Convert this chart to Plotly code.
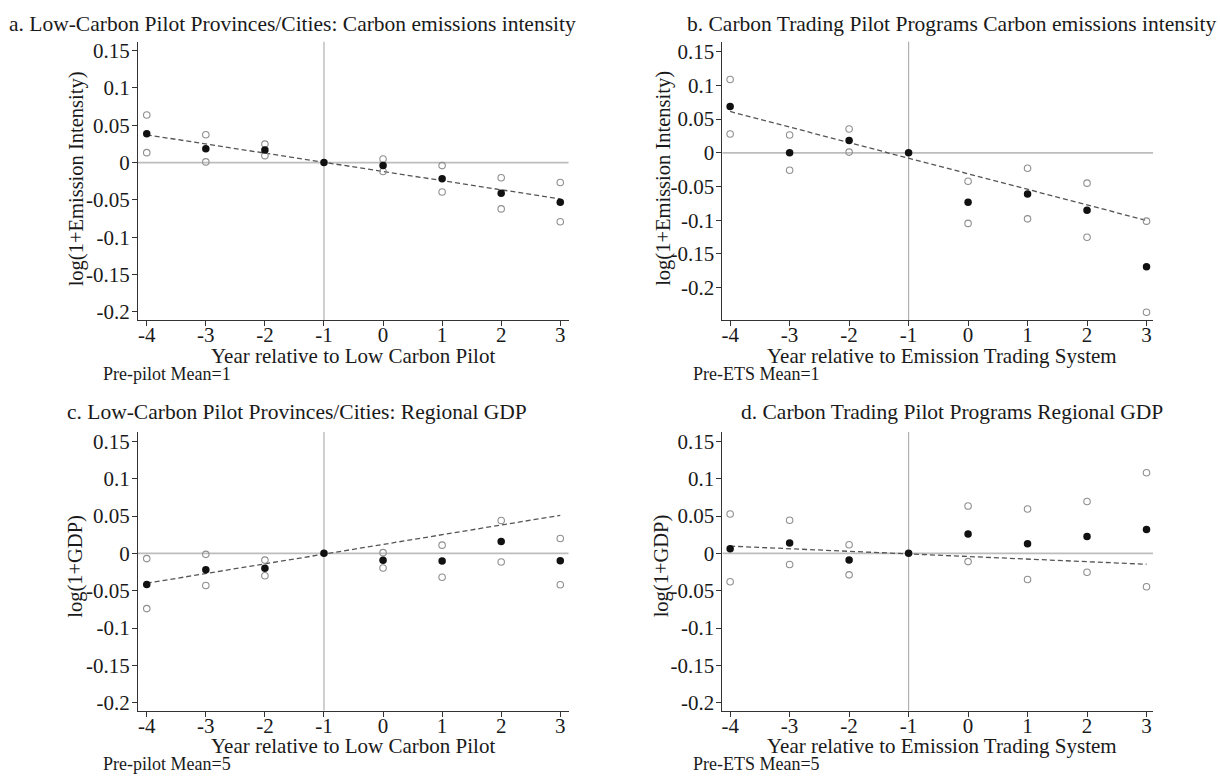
import plotly.graph_objects as go

# ---------------- data ----------------
years = [-4, -3, -2, -1, 0, 1, 2, 3]

# a. Low-carbon pilot: emission intensity
a_est = [0.0385, 0.0186, 0.0168, 0.0, -0.0040, -0.0217, -0.0412, -0.0531]
a_hi = [0.0638, 0.0372, 0.0248, None, 0.0049, -0.0040, -0.0204, -0.0266]
a_lo = [0.0133, 0.0009, 0.0093, None, -0.0120, -0.0394, -0.0620, -0.0793]
a_fit = [0.0372, -0.0487]

# b. Carbon trading pilot: emission intensity
b_est = [0.0685, 0.0, 0.0181, 0.0, -0.0734, -0.0612, -0.0852, -0.1689]
b_hi = [0.1087, 0.0264, 0.0352, None, -0.0421, -0.0230, -0.0450, -0.1013]
b_lo = [0.0279, -0.0260, 0.0010, None, -0.1047, -0.0979, -0.1253, -0.2364]
b_fit = [0.0612, -0.1003]

# c. Low-carbon pilot: regional GDP
c_est = [-0.0417, -0.0220, -0.0200, 0.0, -0.0093, -0.0102, 0.0160, -0.0100]
c_hi = [-0.0070, -0.0013, -0.0090, None, 0.0010, 0.0110, 0.0440, 0.0200]
c_lo = [-0.0740, -0.0430, -0.0300, None, -0.0195, -0.0320, -0.0115, -0.0420]
c_fit = [-0.0400, 0.0510]

# d. Carbon trading pilot: regional GDP
d_est = [0.0062, 0.0140, -0.0089, 0.0, 0.0260, 0.0128, 0.0226, 0.0320]
d_hi = [0.0527, 0.0443, 0.0115, None, 0.0634, 0.0594, 0.0696, 0.1080]
d_lo = [-0.0380, -0.0150, -0.0288, None, -0.0110, -0.0350, -0.0253, -0.0447]
d_fit = [0.0097, -0.0146]

fit_x = [-4, 3]

titles = [
    "a. Low-Carbon Pilot Provinces/Cities: Carbon emissions intensity",
    "b. Carbon Trading Pilot Programs Carbon emissions intensity",
    "c. Low-Carbon Pilot Provinces/Cities: Regional GDP",
    "d. Carbon Trading Pilot Programs Regional GDP",
]
y_titles = ["log(1+Emission Intensity)", "log(1+Emission Intensity)",
            "log(1+GDP)", "log(1+GDP)"]
x_titles = ["Year relative to Low Carbon Pilot", "Year relative to Emission Trading System",
            "Year relative to Low Carbon Pilot", "Year relative to Emission Trading System"]
notes = ["Pre-pilot Mean=1", "Pre-ETS Mean=1", "Pre-pilot Mean=5", "Pre-ETS Mean=5"]

y_tickvals = [0.15, 0.1, 0.05, 0, -0.05, -0.1, -0.15, -0.2]
y_ticktext = ["0.15", "0.1", "0.05", "0", "-0.05", "-0.1", "-0.15", "-0.2"]
x_ticktext = ["-4", "-3", "-2", "-1", "0", "1", "2", "3"]

# ---------------- layout geometry ----------------
W, H = 1220, 776
FONT = "Liberation Serif"
TXT = "#1a1a1a"

panels = [
    dict(est=a_est, hi=a_hi, lo=a_lo, fit=a_fit, px=(137, 568), py=(39, 320),
         yr=[-0.211, 0.162], xr=[-4.15, 3.14], tcx=292, tcy=21,
         ytx=75, yty=177, xtx=352, ntx=100),
    dict(est=b_est, hi=b_hi, lo=b_lo, fit=b_fit, px=(722, 1153), py=(39, 320),
         yr=[-0.248, 0.1647], xr=[-4.13, 3.11], tcx=951, tcy=21,
         ytx=663, yty=177, xtx=942, ntx=691),
    dict(est=c_est, hi=c_hi, lo=c_lo, fit=c_fit, px=(137, 568), py=(433, 714),
         yr=[-0.2106, 0.1625], xr=[-4.15, 3.14], tcx=296, tcy=413,
         ytx=75, yty=568, xtx=352, ntx=100),
    dict(est=d_est, hi=d_hi, lo=d_lo, fit=d_fit, px=(722, 1153), py=(433, 714),
         yr=[-0.2106, 0.1625], xr=[-4.13, 3.11], tcx=952, tcy=413,
         ytx=661, yty=568, xtx=942, ntx=691),
]

fig = go.Figure()
layout = dict(
    width=W, height=H, margin=dict(l=0, r=0, t=0, b=0),
    paper_bgcolor="white", plot_bgcolor="white", showlegend=False,
    font=dict(family=FONT, size=20, color=TXT),
)
annotations = []
shapes = []

for i, p in enumerate(panels):
    n = "" if i == 0 else str(i + 1)
    xa, ya = "x" + n, "y" + n
    x0, x1 = p["px"]
    y0, y1 = p["py"]
    layout["xaxis" + n] = dict(
        domain=[x0 / W, x1 / W], range=p["xr"], anchor=ya,
        tickvals=years, ticktext=x_ticktext, ticks="outside", ticklen=5,
        tickwidth=1, tickcolor="#333", showline=True, linecolor="#333",
        linewidth=1, showgrid=False, zeroline=False, ticklabelstandoff=-9,
        tickfont=dict(family=FONT, size=21, color=TXT), fixedrange=True,
    )
    layout["yaxis" + n] = dict(
        domain=[1 - y1 / H, 1 - y0 / H], range=p["yr"], anchor=xa,
        tickvals=y_tickvals, ticktext=y_ticktext, ticks="outside", ticklen=5,
        tickwidth=1, tickcolor="#333", showline=True, linecolor="#333",
        linewidth=1, showgrid=False, zeroline=False, ticklabelstandoff=-2,
        tickfont=dict(family=FONT, size=21, color=TXT), fixedrange=True,
    )
    # reference lines
    shapes.append(dict(type="line", xref=xa + " domain", yref=ya, x0=0, x1=1,
                       y0=0, y1=0, line=dict(color="#bdbdbd", width=1.8), layer="below"))
    shapes.append(dict(type="line", xref=xa, yref=ya + " domain", x0=-1, x1=-1,
                       y0=0, y1=1, line=dict(color="#b0b0b0", width=1.2), layer="below"))
    # fitted dashed line
    fig.add_trace(go.Scatter(x=fit_x, y=p["fit"], mode="lines", xaxis=xa, yaxis=ya,
                             line=dict(color="#555555", width=1.3, dash="5px,3px"),
                             hoverinfo="skip"))
    # confidence bounds (hollow)
    for arr in (p["hi"], p["lo"]):
        fig.add_trace(go.Scatter(
            x=years, y=arr, mode="markers", xaxis=xa, yaxis=ya,
            marker=dict(symbol="circle-open", size=6.5, color="#8f8f8f",
                        line=dict(width=1.1, color="#8f8f8f"))))
    # point estimates
    fig.add_trace(go.Scatter(
        x=years, y=p["est"], mode="markers", xaxis=xa, yaxis=ya,
        marker=dict(symbol="circle", size=7.5, color="#111111")))

    # texts
    annotations.append(dict(text=titles[i], x=p["tcx"] / W, y=1 - p["tcy"] / H,
                            xref="paper", yref="paper", showarrow=False,
                            xanchor="center", yanchor="middle",
                            font=dict(family=FONT, size=21.5, color=TXT)))
    annotations.append(dict(text=y_titles[i], x=p["ytx"] / W, y=1 - p["yty"] / H,
                            xref="paper", yref="paper",
                            showarrow=False, textangle=-90, xanchor="center",
                            yanchor="middle", font=dict(family=FONT, size=20.5, color=TXT)))
    annotations.append(dict(text=x_titles[i], x=p["xtx"] / W,
                            y=1 - (y1 + 36) / H, xref="paper", yref="paper",
                            showarrow=False, xanchor="center", yanchor="middle",
                            font=dict(family=FONT, size=21, color=TXT)))
    annotations.append(dict(text=notes[i], x=p["ntx"] / W,
                            y=1 - (y1 + 54) / H, xref="paper", yref="paper",
                            showarrow=False, xanchor="left", yanchor="middle",
                            font=dict(family=FONT, size=18, color=TXT)))

layout["annotations"] = annotations
layout["shapes"] = shapes
fig.update_layout(**layout)
fig.write_html(
    "out.html",
    config={"displayModeBar": False, "staticPlot": True},
    post_script="document.body.style.margin='0';document.body.style.overflow='hidden';",
)
